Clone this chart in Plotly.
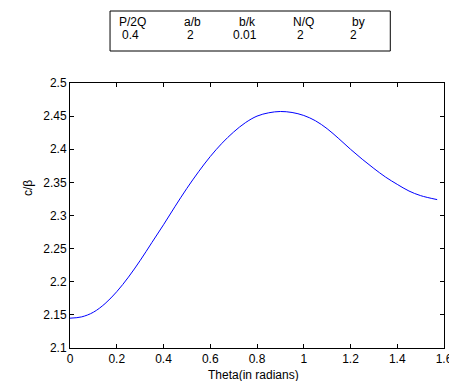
import plotly.graph_objects as go

# ---- data ----
theta = [0.0, 0.05, 0.1, 0.15, 0.2, 0.25, 0.3, 0.35, 0.4, 0.45, 0.5, 0.55, 0.6, 0.65, 0.7, 0.75,
         0.8, 0.85, 0.9, 0.95, 1.0, 1.05, 1.1, 1.15, 1.2, 1.25, 1.3, 1.35, 1.4, 1.45, 1.5, 1.5708]
c_beta = [2.145, 2.147, 2.154, 2.167, 2.185, 2.207, 2.232, 2.259, 2.286, 2.314, 2.341, 2.366,
          2.389, 2.409, 2.426, 2.440, 2.450, 2.455, 2.457, 2.4555, 2.451, 2.443, 2.431, 2.416,
          2.400, 2.385, 2.371, 2.358, 2.347, 2.337, 2.330, 2.324]

param_names = ["P/2Q", "a/b", "b/k", "N/Q", "by"]
param_values = ["0.4", "2", "0.01", "2", "2"]

x_ticks = [0, 0.2, 0.4, 0.6, 0.8, 1.0, 1.2, 1.4, 1.6]
x_tick_text = ["0", "0.2", "0.4", "0.6", "0.8", "1", "1.2", "1.4", "1.6"]
y_ticks = [2.1, 2.15, 2.2, 2.25, 2.3, 2.35, 2.4, 2.45, 2.5]
y_tick_text = ["2.1", "2.15", "2.2", "2.25", "2.3", "2.35", "2.4", "2.45", "2.5"]

# ---- layout geometry (pixels) ----
W, H = 457, 381
L, R, T, B = 62, 445, 75, 340
FONT = "Liberation Sans, Arial, Helvetica, sans-serif"


def px(x):
    return (x - L) / (R - L)


def py(y):
    return (B - y) / (B - T)


name_x = [110, 177, 233, 288, 349]
value_x = [113, 180, 227, 292, 347]

fig = go.Figure()
fig.add_trace(go.Scatter(x=theta, y=c_beta, mode="lines",
                         line=dict(color="#0000ff", width=1, shape="spline", smoothing=1),
                         showlegend=False))

annotations = []
for n, v, nx, vx in zip(param_names, param_values, name_x, value_x):
    annotations.append(dict(x=px(nx), y=py(14), xref="paper", yref="paper", text=n, showarrow=False,
                            xanchor="left", yanchor="middle", font=dict(size=12, color="black", family=FONT)))
    annotations.append(dict(x=px(vx), y=py(27), xref="paper", yref="paper", text=v, showarrow=False,
                            xanchor="left", yanchor="middle", font=dict(size=12, color="black", family=FONT)))

annotations.append(dict(x=px(250), y=py(367), xref="paper", yref="paper", text="Theta(in radians)",
                        showarrow=False, xanchor="center", yanchor="middle",
                        font=dict(size=12, color="black", family=FONT)))
annotations.append(dict(x=px(19), y=py(180), xref="paper", yref="paper", text="c/β", textangle=-90,
                        showarrow=False, xanchor="center", yanchor="middle",
                        font=dict(size=12, color="black", family=FONT)))

fig.update_layout(
    width=W, height=H,
    margin=dict(l=L, r=W - R, t=T, b=H - B, pad=0),
    paper_bgcolor="white", plot_bgcolor="white",
    font=dict(family=FONT, size=12, color="black"),
    annotations=annotations,
    shapes=[dict(type="rect", xref="paper", yref="paper", x0=px(103), x1=px(390), y0=py(43), y1=py(3),
                 line=dict(color="black", width=1), fillcolor="rgba(0,0,0,0)")],
)
fig.update_xaxes(range=[0, 1.6], tickvals=x_ticks, ticktext=x_tick_text, ticks="inside", ticklen=4,
                 tickcolor="black", showline=True, linecolor="black", linewidth=1, mirror="ticks",
                 showgrid=False, zeroline=False, tickfont=dict(size=12, family=FONT, color="black"))
fig.update_yaxes(range=[2.1, 2.5], tickvals=y_ticks, ticktext=y_tick_text, ticks="inside", ticklen=4,
                 tickcolor="black", showline=True, linecolor="black", linewidth=1, mirror="ticks",
                 showgrid=False, zeroline=False, tickfont=dict(size=12, family=FONT, color="black"))

fig.write_html("out.html")
